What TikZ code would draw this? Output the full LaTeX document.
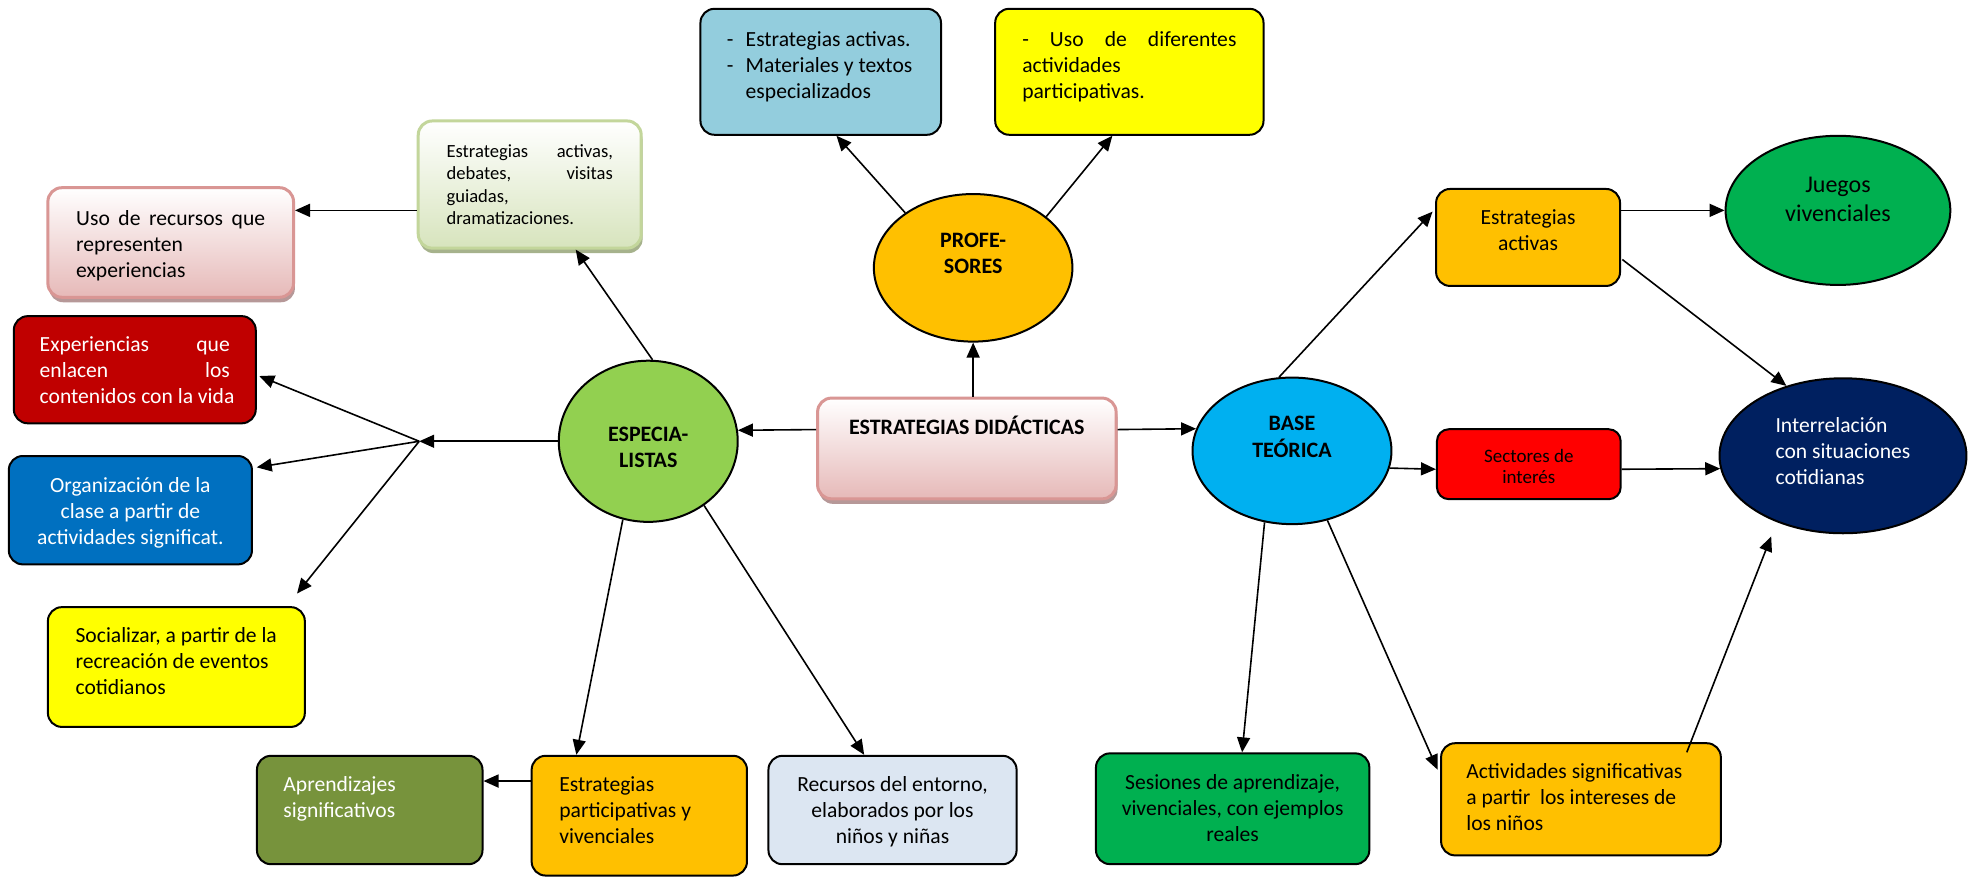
\documentclass[tikz,border=0pt]{standalone}
\usepackage{fontspec}
\setmainfont{Carlito}
\usetikzlibrary{shapes.geometric,arrows.meta,calc,shadows}
\definecolor{cPinkB}{RGB}{230,185,184}
\definecolor{cPinkD}{RGB}{217,150,148}
\definecolor{cPinkS}{RGB}{182,152,152}
\definecolor{cGrnB}{RGB}{215,228,189}
\definecolor{cGrnD}{RGB}{195,214,155}
\definecolor{cGrnS}{RGB}{166,178,140}
\definecolor{cDRed}{RGB}{192,0,0}
\definecolor{cMBlue}{RGB}{0,112,192}
\definecolor{cYel}{RGB}{255,255,0}
\definecolor{cOlv}{RGB}{119,147,60}
\definecolor{cOrg}{RGB}{255,192,0}
\definecolor{cLBlu}{RGB}{220,230,242}
\definecolor{cGreen}{RGB}{0,176,80}
\definecolor{cRed}{RGB}{255,0,0}
\definecolor{cTeal}{RGB}{147,205,221}
\definecolor{cLime}{RGB}{146,208,80}
\definecolor{cCyan}{RGB}{0,176,240}
\definecolor{cNavy}{RGB}{0,32,96}
\newcommand\myJ[1]{\makebox[\linewidth][s]{#1}\\}
\newcommand\myL[1]{\mbox{#1}\\}
\newcommand\myBox[5]{\parbox[c][#1][t]{#2}{#4\vspace*{#3}\strut#5}}
\tikzset{
  bx/.style={draw=black, line width=1pt, rounded corners=7pt, inner sep=0pt,
    font=\fontsize{10.8}{13}\selectfont},
  el/.style={draw=black, line width=1pt, ellipse, inner sep=0pt,
    font=\fontsize{10.8}{13}\selectfont},
  sz/.style 2 args={minimum width=#1pt, minimum height=#2pt},
  pinkbox/.style={bx, draw=cPinkD, line width=1.5pt, top color=white, bottom color=cPinkB,
    drop shadow={shadow xshift=0.7pt, shadow yshift=-2.5pt, fill=cPinkS, opacity=1}},
  greenbox/.style={bx, draw=cGrnD, line width=1.5pt, top color=white, bottom color=cGrnB,
    drop shadow={shadow xshift=0.7pt, shadow yshift=-2.5pt, fill=cGrnS, opacity=1}},
  arr/.style={-{Triangle[length=7.5pt,width=6.5pt]}, line width=0.8pt, black},
}
\begin{document}
\begin{tikzpicture}[x=0.63pt, y=-0.63pt]
\useasboundingbox (0,0) rectangle (1567,697);
\fill[white] (0,0) rectangle (1567,697);

% ---- boxes
\node[pinkbox, sz={122.85}{54.8}] (USO) at (135.5,192.5)
  {\myBox{54.8pt}{94.5pt}{9.8pt}{\raggedright}{\myJ{Uso de recursos que}\myL{representen}\mbox{experiencias}}};
\node[greenbox, sz={111.5}{63.6}, font=\fontsize{9.3}{11.2}\selectfont] (GB) at (420.5,146.5)
  {\myBox{63.6pt}{83.2pt}{10.4pt}{\raggedright}{\myJ{Estrategias activas,}\myJ{debates, visitas}\myL{guiadas,}\mbox{dramatizaciones.}}};
\node[bx, fill=cDRed, text=white, sz={121}{53.6}] (RB) at (107,293.5)
  {\myBox{53.6pt}{95.1pt}{8.54pt}{\raggedright}{\myJ{Experiencias que}\myJ{enlacen los}\mbox{contenidos con la vida}}};
\node[bx, fill=cMBlue, text=white, sz={121.6}{54.2}] (BB) at (103.5,405)
  {\myBox{54.2pt}{104pt}{9.17pt}{\centering}{\myL{Organización de la}\myL{clase a partir de}\mbox{actividades significat.}}};
\node[bx, fill=cYel, sz={128.5}{59.9}] (YB) at (140,529.5)
  {\myBox{59.9pt}{100.8pt}{8.54pt}{\raggedright}{\myL{Socializar, a partir de la}\myL{recreación de eventos}\mbox{cotidianos}}};
\node[bx, fill=cOlv, text=white, sz={112.8}{54.2}] (AP) at (293.5,643)
  {\myBox{54.2pt}{86.3pt}{8.54pt}{\raggedright}{\myL{Aprendizajes}\mbox{significativos}}};
\node[bx, fill=cOrg, sz={107.7}{59.9}] (GP) at (507.5,647.5)
  {\myBox{59.9pt}{80pt}{8.54pt}{\raggedright}{\myL{Estrategias}\myL{participativas y}\mbox{vivenciales}}};
\node[bx, fill=cLBlu, sz={124.1}{54.2}] (RC) at (708.5,643)
  {\myBox{54.2pt}{104pt}{8.54pt}{\centering}{\myL{Recursos del entorno,}\myL{elaborados por los}\mbox{niños y niñas}}};
\node[bx, fill=cGreen, sz={136.7}{55.4}] (SS) at (978.5,642)
  {\myBox{55.4pt}{124pt}{9.17pt}{\centering}{\myL{Sesiones de aprendizaje,}\myL{vivenciales, con ejemplos}\mbox{reales}}};
\node[bx, fill=cOrg, sz={139.9}{56.1}] (AC) at (1255,634.5)
  {\myBox{56.1pt}{114.7pt}{8.54pt}{\raggedright}{\myL{Actividades significativas}\myL{a partir\ \ los intereses de}\mbox{los niños}}};
\node[bx, fill=cOrg, sz={92}{48.5}] (EA) at (1213,188.5)
  {\myBox{48.5pt}{80pt}{8.54pt}{\centering}{\myL{Estrategias}\mbox{activas}}};
\node[bx, fill=cRed, sz={91.9}{35}, rounded corners=6pt, font=\fontsize{9.5}{10.7}\selectfont] (SE) at (1213.6,368.5)
  {\myBox{35pt}{80pt}{9.2pt}{\centering}{\myL{Sectores de}\mbox{interés}}};
\node[pinkbox, sz={149.3}{50.4}, font=\fontsize{11}{13}\selectfont\bfseries] (ED) at (767.5,356)
  {\myBox{50.4pt}{140pt}{8.86pt}{\centering}{\mbox{ESTRATEGIAS DIDÁCTICAS}}};
\node[bx, fill=cTeal, sz={120.3}{63}] (TB1) at (651.5,57)
  {\myBox{63pt}{93.9pt}{9.8pt}{\raggedright}{\myL{\makebox[9.45pt][l]{-}Estrategias activas.}\myL{\makebox[9.45pt][l]{-}Materiales y textos}\mbox{\hspace*{9.45pt}especializados}}};
\node[bx, fill=cYel, sz={134.2}{63}] (TB2) at (896.5,57)
  {\myBox{63pt}{107.1pt}{9.8pt}{\raggedright}{\myJ{- Uso de diferentes}\myL{actividades}\mbox{participativas.}}};

% ---- ellipses
\node[el, fill=cLime, sz={89.5}{80.6}, font=\fontsize{11}{13}\selectfont\bfseries] (ESP) at (514.6,350.3)
  {\raisebox{-6.95pt}[0pt][0pt]{\begin{tabular}{@{}c@{}}ESPECIA-\\LISTAS\end{tabular}}};
\node[el, fill=cOrg, sz={99.3}{73.8}, font=\fontsize{11}{13}\selectfont\bfseries] (PROF) at (772.5,212.6)
  {\raisebox{3.62pt}[0pt][0pt]{\begin{tabular}{@{}c@{}}PROFE-\\SORES\end{tabular}}};
\node[el, fill=cCyan, sz={99.5}{73.3}, font=\fontsize{11}{13}\selectfont\bfseries] (BASE) at (1025.6,357.9)
  {\raisebox{3.3pt}[0pt][0pt]{\begin{tabular}{@{}c@{}}BASE\\TEÓRICA\end{tabular}}};
\node[el, fill=cGreen, sz={112.4}{74.6}, font=\fontsize{12}{14.5}\selectfont] (JU) at (1459,167)
  {\raisebox{1.53pt}[0pt][0pt]{\begin{tabular}{@{}c@{}}Juegos\\vivenciales\end{tabular}}};
\node[el, fill=cNavy, text=white, sz={123.5}{77.5}] (IN) at (1463,361.8)
  {\raisebox{-1.55pt}[0pt][0pt]{\begin{tabular}{@{}l@{}}Interrelación\\con situaciones\\cotidianas\end{tabular}}};

% ---- connectors
\coordinate (hub) at ($(ESP.west)+(-110,0)$);
\draw[arr] ($(ED.west)+(0,-15)$) -- (ESP.7.8);
\draw[arr] ($(ED.east)+(0,-15)$) -- (BASE.167.4);
\draw[arr] (ED.north -| PROF.south) -- (PROF.south);
\draw[arr] (PROF.141.2) -- ($(TB1.south)+(12.5,0)$);
\draw[arr] (PROF.35.95) -- ($(TB2.south)+(-13.5,0)$);
\draw[arr] (ESP.87.8) -- ($(GB.south)+(36.5,0)$);
\draw[arr] ($(GB.west)+(0,20.5)$) -- ($(USO.east)+(0,-25.5)$);
\draw[arr] (ESP.west) -- (hub);
\draw[arr] (hub) -- ($(RB.east)+(2,5)$);
\draw[arr] (hub) -- ($(BB.east)+(3,-34)$);
\draw[arr] (hub) -- ($(YB.north east)+(-7,-10)$);
\draw[arr] (ESP.252.8) -- ($(GP.north)+(-50,0)$);
\draw[arr] (ESP.311.6) -- ($(RC.north)+(-22.5,0)$);
\draw[arr] ($(GP.west)+(0,-27.5)$) -- ($(AP.east)+(0,-23)$);
\draw[arr] (BASE.100.4) -- ($(EA.west)+(-2,-20.5)$);
\draw[arr] ($(EA.east)+(0,-21.5)$) -- (JU.west);
\draw[arr] ($(EA.east)+(1,17.5)$) -- (IN.129.5);
\draw[arr] (BASE.-10.8) -- ($(SE.west)+(0,4)$);
\draw[arr] ($(SE.east)+(0,4)$) -- (IN.186.3);
\draw[arr] (BASE.249.1) -- ($(SS.north)+(7.5,0)$);
\draw[arr] (BASE.297.3) -- ($(AC.west)+(-2,-23.5)$);
\draw[arr] ($(AC.north)+(84,8)$) -- ($(IN.center)+(-57,64)$);
\end{tikzpicture}
\end{document}
